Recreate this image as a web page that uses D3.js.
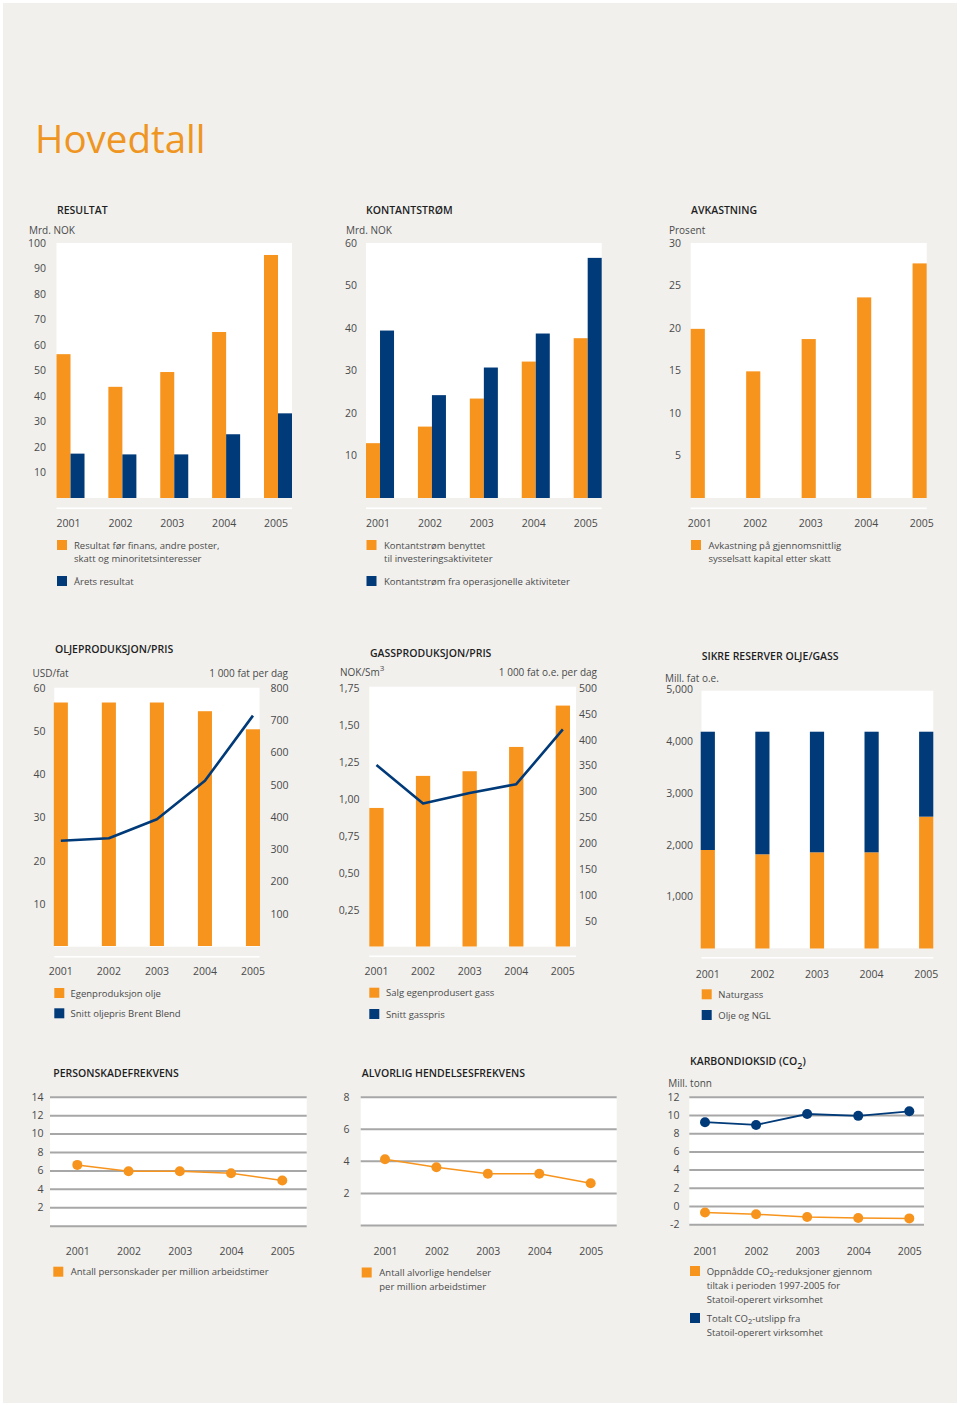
<!DOCTYPE html>
<html><head><meta charset="utf-8">
<script src="https://cdn.jsdelivr.net/npm/d3@7"></script>
<style>
body{margin:0;background:#fff;}
svg{display:block;font-family:"Open Sans",sans-serif;}
</style></head><body>
<svg id="c" width="960" height="1406"></svg>
<script>
// ---------- DATA ----------
const years = ["2001", "2002", "2003", "2004", "2005"];

const resultatDriftValues = [56.4, 43.6, 49.4, 65.1, 95.3];
const resultatAaretsValues = [17.4, 17.1, 17.1, 25.0, 33.2];
const resultatTicks = [10, 20, 30, 40, 50, 60, 70, 80, 90, 100];

const kontInvestValues = [12.9, 16.8, 23.4, 32.1, 37.6];
const kontOperValues = [39.4, 24.2, 30.7, 38.7, 56.5];
const kontTicks = [10, 20, 30, 40, 50, 60];

const avkastningValues = [19.9, 14.9, 18.7, 23.6, 27.6];
const avkastningTicks = [5, 10, 15, 20, 25, 30];

const oljeProdValues = [755, 755, 755, 728, 672];
const oljePrisValues = [24.6, 25.2, 29.6, 38.5, 53.6];
const oljePrisTicks = [10, 20, 30, 40, 50, 60];
const oljeProdTicks = [100, 200, 300, 400, 500, 600, 700, 800];

const gassProdValues = [268, 330, 339, 386, 466];
const gassPrisValues = [1.23, 0.97, 1.04, 1.10, 1.47];
const gassPrisTicks = [0.25, 0.5, 0.75, 1.0, 1.25, 1.5, 1.75];
const gassProdTicks = [50, 100, 150, 200, 250, 300, 350, 400, 450, 500];

const reserverGassValues = [1898, 1815, 1853, 1853, 2540];
const reserverOljeValues = [2279, 2362, 2324, 2324, 1637];
const reserverTicks = [1000, 2000, 3000, 4000, 5000];

const personskadeValues = [6.6, 5.9, 5.9, 5.7, 4.9];
const personskadeTicks = [0, 2, 4, 6, 8, 10, 12, 14];

const hendelseValues = [4.1, 3.6, 3.2, 3.2, 2.6];
const hendelseTicks = [0, 2, 4, 6, 8];

const co2UtslippValues = [9.2, 8.9, 10.1, 9.9, 10.4];
const co2ReduksjonValues = [-0.7, -0.9, -1.2, -1.3, -1.35];
const co2Ticks = [-2, 0, 2, 4, 6, 8, 10, 12];

// ---------- STYLE ----------
const ORANGE = "#f7941d", NAVY = "#013a78", BG = "#f1f0ed", TXT = "#4a4a4a", TITLE = "#1e1e1e", GRID = "#a7a7a7";
const FONT = "'Open Sans', sans-serif";
const svg = d3.select("#c");
svg.append("rect").attr("x", 3).attr("y", 3).attr("width", 954).attr("height", 1400).attr("fill", BG);

function txt(x, y, s, o = {}) {
  const t = svg.append("text").attr("x", x).attr("y", y)
    .attr("dominant-baseline", "central")
    .attr("font-size", o.size || 10)
    .attr("fill", o.fill || TXT)
    .attr("font-weight", o.weight || 400)
    .attr("text-anchor", o.anchor || "start")
    .text(s);
  return t;
}
function title(x, y, s) { return txt(x, y, s, { size: 10.5, weight: 600, fill: TITLE }); }
function legend(x, y, color, lines, tx, spacing) {
  svg.append("rect").attr("x", x).attr("y", y).attr("width", 10).attr("height", 10).attr("fill", color);
  lines.forEach((l, i) => {
    const t = txt(tx, y + 5 + i * spacing, "", { size: 9.5 });
    if (Array.isArray(l)) {
      l.forEach(p => {
        const ts = t.append("tspan").text(p.t);
        if (p.dy) ts.attr("dy", p.dy);
        if (p.small) ts.attr("font-size", 7.5);
      });
    } else t.text(l);
  });
}
function styleAxis(g) {
  g.attr("font-family", FONT).attr("font-size", 10.5);
  g.select(".domain").remove();
  g.selectAll(".tick line").remove();
  g.selectAll("text").attr("fill", TXT);
}
function yAxis(scale, ticks, xRight, fmt) {
  const ax = d3.axisLeft(scale).tickValues(ticks).tickSize(0).tickPadding(0).tickFormat(fmt || (d => d));
  const g = svg.append("g").attr("transform", `translate(${xRight},0)`).call(ax);
  styleAxis(g);
  return g;
}
function xAxis(scale, yc, offset) {
  const ax = d3.axisBottom(scale).tickSize(0);
  const g = svg.append("g").attr("transform", `translate(0,${yc})`).call(ax);
  styleAxis(g);
  g.selectAll("text").attr("y", 0).attr("dy", "0.35em").attr("dx", offset || 0);
  return g;
}
function whiteArea(x0, x1, y0, y1) {
  svg.append("rect").attr("x", x0).attr("y", y0).attr("width", x1 - x0).attr("height", y1 - y0).attr("fill", "#fff");
}
function baseLine(x0, x1, y) {
  svg.append("rect").attr("x", x0).attr("y", y).attr("width", x1 - x0).attr("height", 1.6).attr("fill", "#fff");
}
function gridLines(scale, ticks, x0, x1) {
  const ax = d3.axisLeft(scale).tickValues(ticks).tickSize(-(x1 - x0)).tickFormat("");
  const g = svg.append("g").attr("transform", `translate(${x0},0)`).call(ax);
  g.select(".domain").remove();
  g.selectAll(".tick line").attr("stroke", GRID).attr("stroke-width", 2);
}

// ---------- TITLE ----------
svg.append("text").attr("x", 35).attr("y", 153).attr("font-size", 38.5).attr("font-weight", 400)
  .attr("fill", "#ef9521").text("Hovedtall");

// ---------- PANEL 1: RESULTAT ----------
{
  const x = d3.scaleBand().domain(years).range([56.5, 292]).paddingInner(0.46).paddingOuter(0);
  const xs = d3.scaleBand().domain([0, 1]).range([0, x.bandwidth()]);
  const y = d3.scaleLinear().domain([0, 100]).range([498, 243]);
  whiteArea(56.5, 292, 243, 498);
  baseLine(56.5, 292, 507.5);
  title(57, 210, "RESULTAT");
  txt(29, 230, "Mrd. NOK");
  yAxis(y, resultatTicks, 46);
  const series = [[resultatDriftValues, ORANGE], [resultatAaretsValues, NAVY]];
  series.forEach(([vals, col], si) => {
    svg.append("g").selectAll("rect").data(vals).join("rect")
      .attr("x", (d, i) => x(years[i]) + xs(si)).attr("width", xs.bandwidth())
      .attr("y", d => y(d)).attr("height", d => y(0) - y(d)).attr("fill", col);
  });
  xAxis(x, 523.5, -2);
  legend(57, 540, ORANGE, ["Resultat før finans, andre poster,", "skatt og minoritetsinteresser"], 74, 13);
  legend(57, 576, NAVY, ["Årets resultat"], 74, 13);
}

// ---------- PANEL 2: KONTANTSTRØM ----------
{
  const x = d3.scaleBand().domain(years).range([366, 601.7]).paddingInner(0.46).paddingOuter(0);
  const xs = d3.scaleBand().domain([0, 1]).range([0, x.bandwidth()]);
  const y = d3.scaleLinear().domain([0, 60]).range([498, 243]);
  whiteArea(366, 601.7, 243, 498);
  baseLine(366, 601.7, 507.5);
  title(366, 210, "KONTANTSTRØM");
  txt(346, 230, "Mrd. NOK");
  yAxis(y, kontTicks, 357);
  const series = [[kontInvestValues, ORANGE], [kontOperValues, NAVY]];
  series.forEach(([vals, col], si) => {
    svg.append("g").selectAll("rect").data(vals).join("rect")
      .attr("x", (d, i) => x(years[i]) + xs(si)).attr("width", xs.bandwidth())
      .attr("y", d => y(d)).attr("height", d => y(0) - y(d)).attr("fill", col);
  });
  xAxis(x, 523.5, -2);
  legend(366.5, 540, ORANGE, ["Kontantstrøm benyttet", "til investeringsaktiviteter"], 384, 13);
  legend(366.5, 576, NAVY, ["Kontantstrøm fra operasjonelle aktiviteter"], 384, 13);
}

// ---------- PANEL 3: AVKASTNING ----------
{
  const x = d3.scaleBand().domain(years).range([690.7, 926.7]).paddingInner(0.745).paddingOuter(0);
  const y = d3.scaleLinear().domain([0, 30]).range([498, 243]);
  whiteArea(690.7, 926.7, 243, 498);
  baseLine(690.7, 926.7, 507.5);
  title(691, 210, "AVKASTNING");
  txt(669, 229.5, "Prosent");
  yAxis(y, avkastningTicks, 681);
  svg.append("g").selectAll("rect").data(avkastningValues).join("rect")
    .attr("x", (d, i) => x(years[i])).attr("width", x.bandwidth())
    .attr("y", d => y(d)).attr("height", d => y(0) - y(d)).attr("fill", ORANGE);
  xAxis(x, 523.5, 2);
  legend(691, 540, ORANGE, ["Avkastning på gjennomsnittlig", "sysselsatt kapital etter skatt"], 708.5, 13);
}

// ---------- PANEL 4: OLJEPRODUKSJON/PRIS ----------
{
  const x = d3.scaleBand().domain(years).range([53.8, 260]).paddingInner(0.707).paddingOuter(0);
  const yL = d3.scaleLinear().domain([0, 60]).range([947, 688]);
  const yR = d3.scaleLinear().domain([0, 800]).range([946, 688]);
  whiteArea(54.3, 259.5, 687.7, 946.7);
  baseLine(54.3, 259.5, 956);
  title(55, 648.7, "OLJEPRODUKSJON/PRIS");
  txt(32.5, 672.7, "USD/fat");
  txt(288, 672.7, "1 000 fat per dag", { anchor: "end" });
  yAxis(yL, oljePrisTicks, 45.5);
  yAxis(yR, oljeProdTicks, 288.5);
  svg.append("g").selectAll("rect").data(oljeProdValues).join("rect")
    .attr("x", (d, i) => x(years[i])).attr("width", x.bandwidth())
    .attr("y", d => yR(d)).attr("height", d => yR(0) - yR(d)).attr("fill", ORANGE);
  const line = d3.line().x((d, i) => x(years[i]) + x.bandwidth() / 2).y(d => yL(d));
  svg.append("path").datum(oljePrisValues).attr("d", line).attr("fill", "none")
    .attr("stroke", NAVY).attr("stroke-width", 2.6).attr("stroke-linejoin", "round");
  xAxis(x, 971.5, 0);
  legend(54.3, 988, ORANGE, ["Egenproduksjon olje"], 70.5, 13);
  legend(54.3, 1008.3, NAVY, ["Snitt oljepris Brent Blend"], 70.5, 13);
}

// ---------- PANEL 5: GASSPRODUKSJON/PRIS ----------
{
  const x = d3.scaleBand().domain(years).range([369.3, 570]).paddingInner(0.693).paddingOuter(0);
  const yL = d3.scaleLinear().domain([0, 1.75]).range([947, 688]);
  const yR = d3.scaleLinear().domain([0, 500]).range([946.5, 688]);
  whiteArea(369.3, 576, 686.7, 946.7);
  baseLine(369.3, 576, 955.5);
  title(370, 652.5, "GASSPRODUKSJON/PRIS");
  const u = txt(340, 672, "NOK/Sm");
  u.append("tspan").attr("font-size", 8).attr("dy", -5).text("3");
  txt(597, 672, "1 000 fat o.e. per dag", { anchor: "end" });
  yAxis(yL, gassPrisTicks, 359.5, d => d.toFixed(2).replace(".", ","));
  yAxis(yR, gassProdTicks, 597);
  svg.append("g").selectAll("rect").data(gassProdValues).join("rect")
    .attr("x", (d, i) => x(years[i])).attr("width", x.bandwidth())
    .attr("y", d => yR(d)).attr("height", d => yR(0) - yR(d)).attr("fill", ORANGE);
  const line = d3.line().x((d, i) => x(years[i]) + x.bandwidth() / 2).y(d => yL(d));
  svg.append("path").datum(gassPrisValues).attr("d", line).attr("fill", "none")
    .attr("stroke", NAVY).attr("stroke-width", 2.6).attr("stroke-linejoin", "round");
  xAxis(x, 971.5, 0);
  legend(369.3, 987.7, ORANGE, ["Salg egenprodusert gass"], 386, 13);
  legend(369.3, 1009, NAVY, ["Snitt gasspris"], 386, 13);
}

// ---------- PANEL 6: SIKRE RESERVER OLJE/GASS ----------
{
  const x = d3.scaleBand().domain(years).range([700.7, 933.3]).paddingInner(0.74).paddingOuter(0);
  const y = d3.scaleLinear().domain([0, 5000]).range([948.5, 689]);
  whiteArea(701.5, 933.3, 690.7, 948.3);
  baseLine(701.5, 933.3, 957);
  title(701.7, 655.7, "SIKRE RESERVER OLJE/GASS");
  txt(665, 677.5, "Mill. fat o.e.");
  yAxis(y, reserverTicks, 693, d3.format(","));
  const table = years.map((yr, i) => ({ year: yr, gass: reserverGassValues[i], olje: reserverOljeValues[i] }));
  const stack = d3.stack().keys(["gass", "olje"])(table);
  const cols = { gass: ORANGE, olje: NAVY };
  stack.forEach(s => {
    svg.append("g").selectAll("rect").data(s).join("rect")
      .attr("x", d => x(d.data.year)).attr("width", x.bandwidth())
      .attr("y", d => y(d[1])).attr("height", d => y(d[0]) - y(d[1])).attr("fill", cols[s.key]);
  });
  xAxis(x, 974, 0);
  legend(701.7, 989.3, ORANGE, ["Naturgass"], 718.3, 13);
  legend(701.7, 1010, NAVY, ["Olje og NGL"], 718.3, 13);
}

// ---------- PANEL 7: PERSONSKADEFREKVENS ----------
{
  const x = d3.scalePoint().domain(years).range([77.3, 282.3]);
  const y = d3.scaleLinear().domain([0, 14]).range([1225.7, 1096.7]);
  whiteArea(50, 306.7, 1096.7, 1225.7);
  gridLines(y, personskadeTicks, 50, 306.7);
  title(53.3, 1072.5, "PERSONSKADEFREKVENS");
  yAxis(y, personskadeTicks.filter(d => d > 0), 43.5);
  const line = d3.line().x((d, i) => x(years[i])).y(d => y(d));
  svg.append("path").datum(personskadeValues).attr("d", line).attr("fill", "none").attr("stroke", ORANGE).attr("stroke-width", 1.5);
  svg.append("g").selectAll("circle").data(personskadeValues).join("circle")
    .attr("cx", (d, i) => x(years[i])).attr("cy", d => y(d)).attr("r", 5).attr("fill", ORANGE);
  xAxis(x, 1251.5, 0);
  legend(53.3, 1266.7, ORANGE, ["Antall personskader per million arbeidstimer"], 70.7, 14);
}

// ---------- PANEL 8: ALVORLIG HENDELSESFREKVENS ----------
{
  const x = d3.scalePoint().domain(years).range([385, 590.7]);
  const y = d3.scaleLinear().domain([0, 8]).range([1225, 1096.7]);
  whiteArea(360.7, 616.7, 1096.7, 1225);
  gridLines(y, hendelseTicks, 360.7, 616.7);
  title(361.7, 1072.5, "ALVORLIG HENDELSESFREKVENS");
  yAxis(y, hendelseTicks.filter(d => d > 0), 349.5);
  const line = d3.line().x((d, i) => x(years[i])).y(d => y(d));
  svg.append("path").datum(hendelseValues).attr("d", line).attr("fill", "none").attr("stroke", ORANGE).attr("stroke-width", 1.5);
  svg.append("g").selectAll("circle").data(hendelseValues).join("circle")
    .attr("cx", (d, i) => x(years[i])).attr("cy", d => y(d)).attr("r", 5).attr("fill", ORANGE);
  xAxis(x, 1251.5, 0);
  legend(361.7, 1267.5, ORANGE, ["Antall alvorlige hendelser", "per million arbeidstimer"], 379.3, 14);
}

// ---------- PANEL 9: KARBONDIOKSID ----------
{
  const x = d3.scalePoint().domain(years).range([705, 909.3]);
  const y = d3.scaleLinear().domain([-2, 12]).range([1224.3, 1096.7]);
  whiteArea(689.3, 924, 1096.7, 1224.3);
  gridLines(y, co2Ticks, 689.3, 924);
  const t = title(690, 1061, "KARBONDIOKSID (CO");
  t.append("tspan").attr("font-size", 9).attr("dy", 4).text("2");
  t.append("tspan").attr("dy", -4).text(")");
  txt(668.3, 1083, "Mill. tonn");
  yAxis(y, co2Ticks, 679.5);
  const line = d3.line().x((d, i) => x(years[i])).y(d => y(d));
  svg.append("path").datum(co2ReduksjonValues).attr("d", line).attr("fill", "none").attr("stroke", ORANGE).attr("stroke-width", 1.5);
  svg.append("path").datum(co2UtslippValues).attr("d", line).attr("fill", "none").attr("stroke", NAVY).attr("stroke-width", 1.8);
  svg.append("g").selectAll("circle").data(co2ReduksjonValues).join("circle")
    .attr("cx", (d, i) => x(years[i])).attr("cy", d => y(d)).attr("r", 5).attr("fill", ORANGE);
  svg.append("g").selectAll("circle").data(co2UtslippValues).join("circle")
    .attr("cx", (d, i) => x(years[i])).attr("cy", d => y(d)).attr("r", 5).attr("fill", NAVY);
  xAxis(x, 1251, 0);
  legend(690, 1266, ORANGE, [[{ t: "Oppnådde CO" }, { t: "2", dy: 3, small: true }, { t: "-reduksjoner gjennom", dy: -3 }], "tiltak i perioden 1997-2005 for", "Statoil-operert virksomhet"], 706.7, 14);
  legend(690, 1313, NAVY, [[{ t: "Totalt CO" }, { t: "2", dy: 3, small: true }, { t: "-utslipp fra", dy: -3 }], "Statoil-operert virksomhet"], 706.7, 14);
}
</script>
</body></html>
